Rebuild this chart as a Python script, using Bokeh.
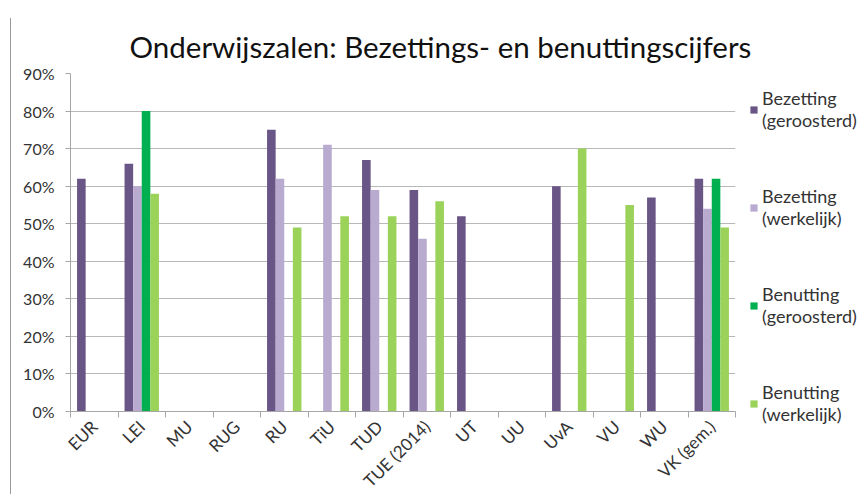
import math
from bokeh.plotting import figure
from bokeh.models import (Range1d, FixedTicker, LinearAxis, Legend, LegendItem,
                          NumeralTickFormatter, ColumnDataSource, Grid)
from bokeh.embed import file_html
from bokeh.resources import INLINE

title_text = "Onderwijszalen: Bezettings-  en benuttingscijfers"
categories = ["EUR", "LEI", "MU", "RUG", "RU", "TiU", "TUD", "TUE (2014)", "UT", "UU",
              "UvA", "VU", "WU", "VK (gem.)"]
series_names = ["Bezetting\n(geroosterd)", "Bezetting\n(werkelijk)",
                "Benutting\n(geroosterd)", "Benutting\n(werkelijk)"]
bezetting_geroosterd = [0.62, 0.66, None, None, 0.75, None, 0.67, 0.59, 0.52, None, 0.60, None, 0.57, 0.62]
bezetting_werkelijk = [None, 0.60, None, None, 0.62, 0.71, 0.59, 0.46, None, None, None, None, None, 0.54]
benutting_geroosterd = [None, 0.80, None, None, None, None, None, None, None, None, None, None, None, 0.62]
benutting_werkelijk = [None, 0.58, None, None, 0.49, 0.52, 0.52, 0.56, None, None, 0.70, 0.55, None, 0.49]
y_ticks = [0.0, 0.1, 0.2, 0.3, 0.4, 0.5, 0.6, 0.7, 0.8, 0.9]

colors = ["#6A5587", "#B9AACF", "#00B050", "#9BD35A"]
series = [bezetting_geroosterd, bezetting_werkelijk, benutting_geroosterd, benutting_werkelijk]

FONT = "Lato"
TEXT_COLOR = "#333333"
AXIS_COLOR = "#A6A6A6"

n = len(categories)
p = figure(frame_width=665, frame_height=338, output_backend="svg", toolbar_location=None,
           x_range=Range1d(0, n), y_range=Range1d(0, y_ticks[-1]),
           x_axis_type=None, y_axis_type=None,
           min_border_left=70, min_border_right=0, min_border_top=73, min_border_bottom=0)
p.outline_line_color = None
p.border_fill_alpha = 0
p.background_fill_color = "white"
p.styles = {"background-color": "white",
            "background-image": "linear-gradient(#9A9A9A, #9A9A9A)",
            "background-repeat": "no-repeat",
            "background-position": "10px 18px",
            "background-size": "1px 100%"}

p.title.text = title_text
p.title.text_font = FONT
p.title.text_font_size = "29.5px"
p.title.text_font_style = "normal"
p.title.text_color = "#111111"
p.title.align = "left"
p.title.offset = 59
p.title.standoff = 20

bar_w = 0.181
renderers = []
for k, (vals, col) in enumerate(zip(series, colors)):
    xs, tops = [], []
    for i, v in enumerate(vals):
        if v is not None:
            xs.append(i + 0.5 + (k - 1.5) * bar_w)
            tops.append(v)
    src = ColumnDataSource(dict(x=xs, top=tops))
    r = p.vbar(x="x", top="top", width=bar_w, bottom=0, source=src,
               fill_color=col, line_color=None)
    renderers.append(r)

# y axis
yticker = FixedTicker(ticks=y_ticks, minor_ticks=[])
yaxis = LinearAxis(ticker=yticker, formatter=NumeralTickFormatter(format="0%"))
yaxis.axis_line_color = AXIS_COLOR
yaxis.major_tick_line_color = AXIS_COLOR
yaxis.major_tick_out = 5
yaxis.major_tick_in = 0
yaxis.minor_tick_line_color = None
yaxis.major_label_text_font = FONT
yaxis.major_label_text_font_size = "16px"
yaxis.major_label_text_color = TEXT_COLOR
yaxis.major_label_standoff = 11
p.add_layout(yaxis, "left")
p.add_layout(Grid(dimension=1, ticker=yticker, grid_line_color="#B8B8B8", grid_line_width=1))

# x axis: labels at centers, tick marks at category boundaries
centers = [i + 0.5 for i in range(n)]
bounds = [float(i) for i in range(n + 1)]
xticker = FixedTicker(ticks=centers, minor_ticks=bounds)
xaxis = LinearAxis(ticker=xticker)
xaxis.major_label_overrides = {c: name for c, name in zip(centers, categories)}
xaxis.axis_line_color = AXIS_COLOR
xaxis.major_tick_line_color = None
xaxis.minor_tick_line_color = AXIS_COLOR
xaxis.minor_tick_out = 6
xaxis.minor_tick_in = 0
xaxis.major_label_orientation = math.pi / 4
xaxis.major_label_text_font = FONT
xaxis.major_label_text_font_size = "17px"
xaxis.major_label_text_color = TEXT_COLOR
xaxis.major_label_standoff = 6
p.add_layout(xaxis, "below")

# legend
legend = Legend(items=[LegendItem(label=nm, renderers=[r]) for nm, r in zip(series_names, renderers)],
                location="top_left", orientation="vertical")
legend.label_text_font = FONT
legend.label_text_font_size = "18px"
legend.label_text_color = TEXT_COLOR
legend.label_text_line_height = 1.1
legend.glyph_width = 9
legend.glyph_height = 9
legend.label_standoff = 4
legend.spacing = 54
legend.padding = 0
legend.margin = 14
legend.border_line_color = None
legend.background_fill_alpha = 0
p.add_layout(legend, "right")

open("out.html", "w").write(file_html(p, INLINE))
